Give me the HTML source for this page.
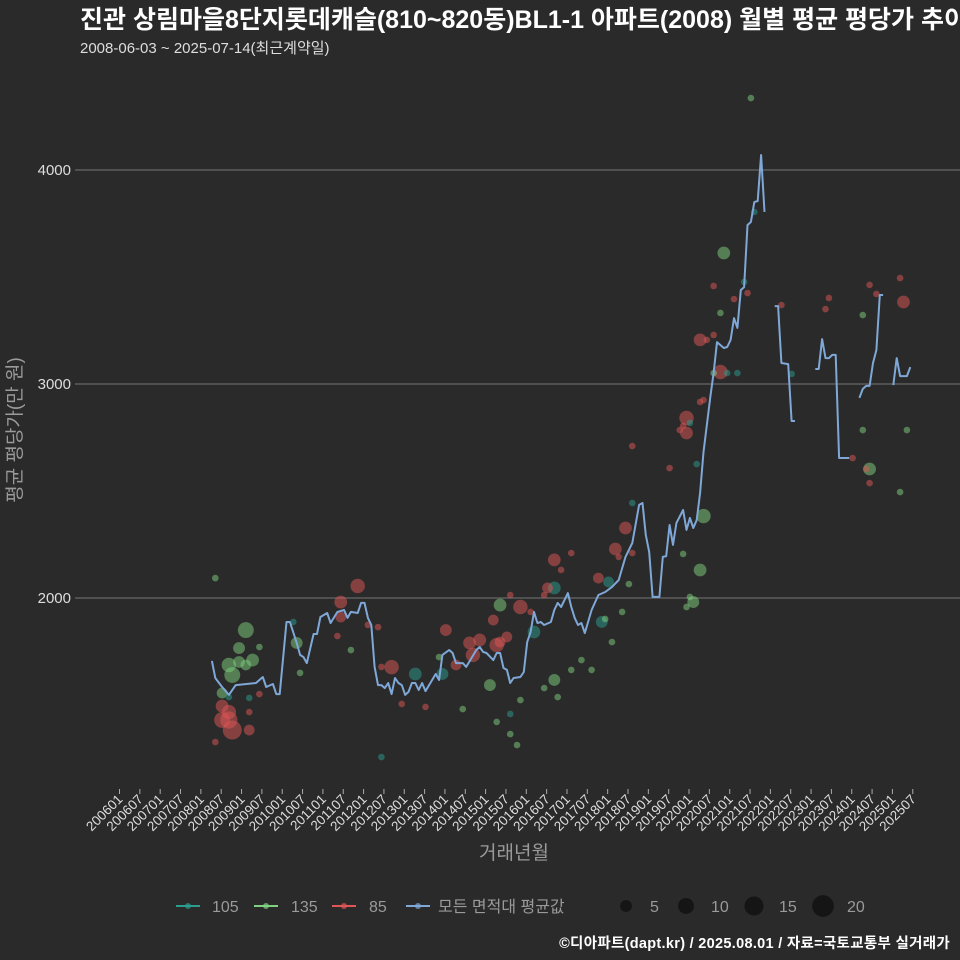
<!DOCTYPE html>
<html><head><meta charset="utf-8"><style>
html,body{margin:0;padding:0;background:#2a2a2a;}
svg{display:block;}
text{font-family:"Liberation Sans","Noto Sans CJK KR",sans-serif;}
</style></head><body>
<svg id="chart" width="960" height="960" viewBox="0 0 960 960">
<rect width="960" height="960" fill="#2a2a2a"/>
<text x="80" y="28" fill="#ffffff" font-size="25" font-weight="bold">진관 상림마을8단지롯데캐슬(810~820동)BL1-1 아파트(2008) 월별 평균 평당가 추이</text>
<text x="80" y="53" fill="#dddddd" font-size="15">2008-06-03 ~ 2025-07-14(최근계약일)</text>
<g id="grid"></g>
<g id="scatter"></g>
<g id="line"></g>
<g id="xaxis"></g>
<text x="514" y="859" fill="#9a9a9a" font-size="19" text-anchor="middle">거래년월</text>
<text transform="translate(21,430) rotate(-90)" fill="#9a9a9a" font-size="19" text-anchor="middle">평균 평당가(만 원)</text>
<g id="legend"></g>
<text x="950" y="948" fill="#ffffff" font-size="14.5" font-weight="bold" text-anchor="end" letter-spacing="0.3">©디아파트(dapt.kr) / 2025.08.01 / 자료=국토교통부 실거래가</text>
</svg>
<script>
const yTicks = [2000, 3000, 4000];
const xTickLabels = [];
for (let y = 2006; y <= 2025; y++) { xTickLabels.push(y + "01"); xTickLabels.push(y + "07"); }
// average line: month index since 200601, value (null = gap)
const lineMonths = [28,29,31,33,35,41,43,44,46,47,48,50,51,53,54,55,56,58,59,60,62,63,65,67,68,69,71,72,73,74,75,76,77,78,79,80,81,82,83,84,85,86,87,88,89,90,91,94,95,96,98,99,100,102,103,106,107,108,109,111,112,113,114,115,116,117,119,120,121,122,123,124,125,126,128,129,130,131,133,134,135,136,137,138,140,142,144,146,148,150,152,154,155,156,157,158,160,161,162,163,164,165,167,168,169,170,171,172,173,175,176,177,179,180,181,182,183,184,185,186,187,188,189,190,191,192,194,195,196,198,199,200,201,206,207,208,209,210,211,212,213,214,216,217,219,220,221,222,223,224,225,226,227,229,230,231,233,234];
const lineValues = [1706,1626,1584,1547,1593,1603,1631,1584,1598,1551,1551,1888,1888,1790,1734,1724,1696,1832,1832,1911,1930,1883,1935,1944,1907,1935,1930,1977,1977,1907,1874,1678,1593,1593,1579,1603,1551,1626,1603,1593,1547,1561,1603,1603,1570,1603,1565,1645,1617,1734,1757,1743,1696,1696,1678,1757,1771,1748,1743,1710,1743,1743,1673,1664,1603,1626,1631,1654,1794,1841,1935,1883,1888,1874,1888,1944,1977,1958,2023,1958,1907,1874,1883,1836,1944,2014,2028,2051,2084,2192,2257,2435,2444,2294,2215,2005,2005,2192,2196,2341,2248,2350,2411,2318,2374,2327,2364,2491,2682,2939,3051,3196,3168,3173,3206,3308,3262,3439,3453,3743,3757,3850,3855,4070,3804,null,3364,3364,3098,3093,2827,2827,null,3070,3070,3210,3121,3121,3136,3136,2654,2654,2654,null,2935,2977,2991,2991,3098,3159,3416,3416,null,2995,3121,3037,3037,3079];
// scatter: area group, month, value, count
const ptGroup = ["g","g","g","g","g","g","g","g","g","r","r","r","r","r","r","r","r","t","t","g","r","g","g","r","r","r","g","r","r","r","t","r","r","t","r","r","g","r","r","r","r","r","r","g","g","g","r","r","r","r","r","t","t","g","g","t","g","g","g","g","g","t","t","r","r","r","r","r","r","g","g","g","t","t","r","r","r","r","r","r","t","g","g","g","g","r","r","r","r","r","r","r","r","r","r","r","t","t","g","g","g","g","g","g","g","r","r","t","r","g","t","g","t","t","r","t","r","r","r","g","g","r","r","r","r","r","r","g","g","g","g","g"];
const ptMonth = [29,38,36,38,33,34,36,40,31,29,31,31,33,34,39,33,39,33,39,42,42,53,54,66,71,65,69,66,74,77,52,78,81,78,84,91,95,97,104,105,107,112,113,102,110,113,119,116,111,115,100,96,88,112,116,116,118,119,129,126,130,123,129,127,129,131,134,122,126,134,137,140,143,145,142,147,150,152,148,152,152,151,144,146,149,163,166,168,167,172,168,172,174,176,178,173,171,169,173,172,167,169,170,168,179,176,182,185,186,178,183,176,180,188,196,199,209,210,217,222,220,222,224,231,232,221,222,220,233,231,187];
const ptValue = [2093,1850,1766,1687,1687,1640,1701,1710,1556,1327,1495,1430,1430,1383,1383,1467,1467,1537,1533,1771,1551,1790,1650,1981,2056,1822,1757,1911,1874,1864,1888,1678,1677,1257,1505,1491,1724,1850,1790,1734,1804,1780,1794,1481,1593,1967,1958,2014,1897,1818,1687,1645,1645,1421,1364,1458,1313,1523,1617,1579,1537,1841,2047,2047,2178,2131,2210,1935,2014,1664,1710,1664,1888,2075,2093,2229,2327,2210,2192,2710,2444,2065,1902,1794,1935,2607,2785,2841,2804,2916,2771,3206,3206,3229,3056,2925,2626,2818,2383,2131,2206,2005,1981,1958,3612,3458,3397,3477,3425,3332,3051,3051,3051,3804,3369,3047,3350,3402,2654,2603,3322,3463,3421,3495,3383,2603,2537,2785,2785,2495,4336];
const ptCount = [3,10,5,4,8,10,5,6,4,3,6,10,12,15,4,8,3,3,3,3,3,5,3,6,8,3,3,4,3,3,3,3,8,3,3,3,3,5,6,8,6,8,4,3,5,6,8,3,4,4,4,5,6,3,3,3,3,3,5,3,3,6,6,4,6,3,3,3,3,3,3,3,5,4,4,6,6,3,3,3,3,3,3,3,3,3,3,8,3,3,6,6,3,3,8,3,3,3,8,6,3,3,5,3,6,3,3,3,3,3,3,3,3,3,3,3,3,3,3,6,3,3,3,3,6,3,3,3,3,3,3];

const NS = "http://www.w3.org/2000/svg";
const X0 = 117, XM = 3.39;
function xScale(m){ return X0 + XM*m; }
function yScale(v){ return 598 - (v-2000)*0.214; }
function monthIndex(lbl){ return (parseInt(lbl.slice(0,4))-2006)*12 + parseInt(lbl.slice(4))-1; }
function rScale(n){ return 1 + 2.2*Math.sqrt(n) - (n<=3?1.5:0); }
const colors = {t:"#2a9d8f", g:"#7fd27f", r:"#e05555", a:"#7fa8d8"};
function mk(tag, attrs, parent){ const e=document.createElementNS(NS,tag); for(const k in attrs) e.setAttribute(k, attrs[k]); parent.appendChild(e); return e; }

const grid = document.getElementById("grid");
yTicks.forEach(v=>{
  const l = mk("line",{x1:75,x2:960,y1:yScale(v),y2:yScale(v),stroke:"#777",'stroke-width':1},grid);
  
  
  const t = mk("text",{x:71,y:yScale(v)+5,fill:"#dddddd",'font-size':15,'text-anchor':'end'},grid);
  t.textContent = v;
  
  
});

const sc = document.getElementById("scatter");
for (let i=0;i<ptMonth.length;i++){
  const c = mk("circle",{cx:xScale(ptMonth[i]),cy:yScale(ptValue[i]),r:rScale(ptCount[i]),fill:colors[ptGroup[i]],'fill-opacity':0.5},sc);
  
  
}

const lg = document.getElementById("line");
let seg = [];
function flush(){ if(seg.length>1){ const p=mk("polyline",{points:seg.join(" "),fill:"none",stroke:colors.a,'stroke-width':2,'stroke-linejoin':'round'},lg);
  
   } seg=[]; }
for (let i=0;i<lineMonths.length;i++){
  if (lineValues[i]===null){ flush(); continue; }
  seg.push(xScale(lineMonths[i]).toFixed(1)+","+yScale(lineValues[i]).toFixed(1));
}
flush();

const xa = document.getElementById("xaxis");
xTickLabels.forEach(lbl=>{
  const x = xScale(monthIndex(lbl)) + 2.5;
  const tk = mk("line",{x1:x,x2:x,y1:789,y2:794,stroke:"#aaa",'stroke-width':1},xa);
  
  
  const t = mk("text",{transform:`translate(${x+4},${800}) rotate(-45)`,fill:"#dddddd",'font-size':13.5,'text-anchor':'end'},xa);
  t.textContent = lbl;
  
  
});

const leg = document.getElementById("legend");
const legItems = [["105",colors.t,188,212],["135",colors.g,266,291],["85",colors.r,344,369],["모든 면적대 평균값",colors.a,418,438]];
legItems.forEach(it=>{
  const g = mk("g",{},leg);
  
  
  mk("line",{x1:it[2]-12,x2:it[2]+12,y1:906,y2:906,stroke:it[1],'stroke-width':2},g);
  mk("circle",{cx:it[2],cy:906,r:3,fill:it[1],'fill-opacity':0.7},g);
  const t = mk("text",{x:it[3],y:912,fill:"#9a9a9a",'font-size':16},g);
  t.textContent = it[0];
});
const sizeLeg = [[5,626,650],[10,686,711],[15,754,779],[20,823,847]];
sizeLeg.forEach(s=>{
  const g = mk("g",{},leg);
  
  
  mk("circle",{cx:s[1],cy:906,r:rScale(s[0]),fill:"#151515"},g);
  const t = mk("text",{x:s[2],y:912,fill:"#9a9a9a",'font-size':16},g);
  t.textContent = s[0];
});
</script>
</body></html>
